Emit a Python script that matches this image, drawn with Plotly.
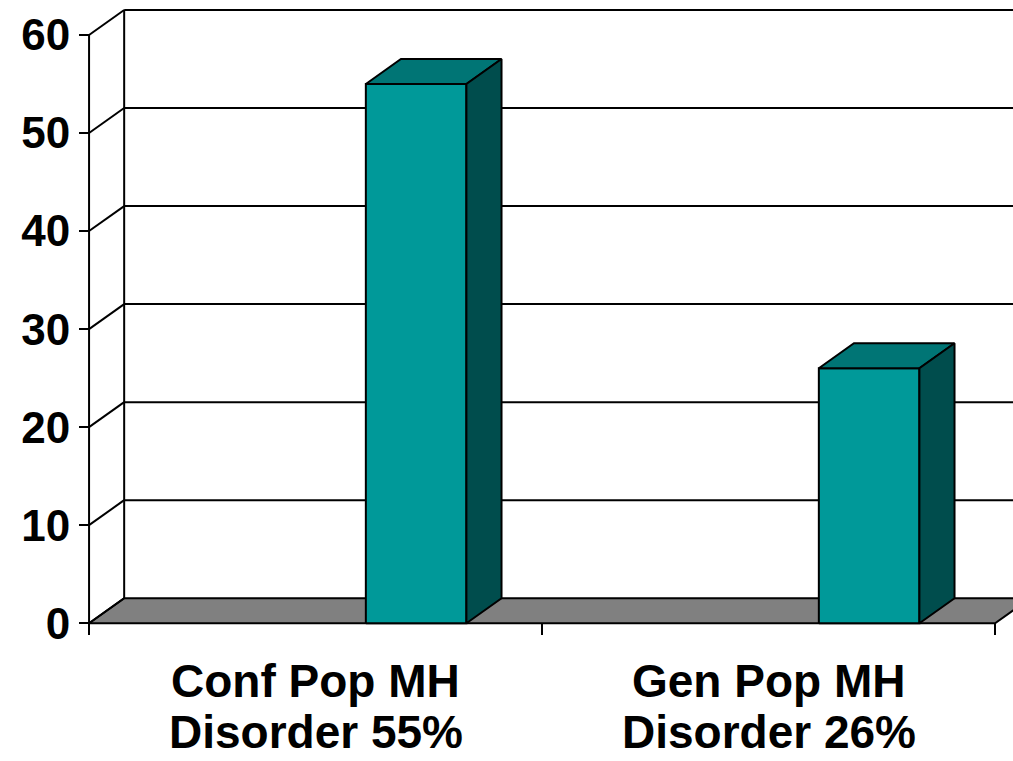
import plotly.graph_objects as go

# ---- data -------------------------------------------------------------
categories = [["Conf Pop MH", "Disorder 55%"], ["Gen Pop MH", "Disorder 26%"]]
values = [55, 26]
y_ticks = [0, 10, 20, 30, 40, 50, 60]

# ---- 3-D styling (axis units) -----------------------------------------
DX = 0.0775          # depth offset of the back wall along x
DY = 2.55            # depth offset of the back wall along y
BAR_LEFT = 0.611     # bar front face position inside its category slot
BAR_RIGHT = 0.833

FRONT = "#009999"
TOP = "#007575"
SIDE = "#004D4D"
FLOOR = "#808080"
EDGE = "black"
LW = 2

W, H = 1013, 761
L, B = 80, 128
PX_PER_X = 453.0
X0 = -0.02
PLOT_W = W - L
PLOT_H = H - B
Y0 = -1.0
Y1 = 63.57
X1 = X0 + PLOT_W / PX_PER_X

fig = go.Figure()


def poly(xs, ys, fill):
    fig.add_trace(go.Scatter(
        x=list(xs) + [xs[0]], y=list(ys) + [ys[0]], mode="lines",
        fill="toself", fillcolor=fill,
        line=dict(color=EDGE, width=LW), hoverinfo="skip", showlegend=False))


def segments(segs):
    xs, ys = [], []
    for (xa, ya), (xb, yb) in segs:
        xs += [xa, xb, None]
        ys += [ya, yb, None]
    fig.add_trace(go.Scatter(
        x=xs, y=ys, mode="lines", line=dict(color=EDGE, width=LW),
        hoverinfo="skip", showlegend=False))


n = len(categories)
top_val = y_ticks[-1]

# back wall gridlines and its left edge
segments([((DX, v + DY), (n + DX, v + DY)) for v in y_ticks if v > 0]
         + [((DX, DY), (DX, top_val + DY))])

# floor
poly([0, n, n + DX, DX], [0, 0, DY, DY], FLOOR)

# left side wall: front axis line and diagonals to the back wall
segments([((0, 0), (0, top_val))]
         + [((0, v), (DX, v + DY)) for v in y_ticks])

# bars
for i, v in enumerate(values):
    x0, x1 = i + BAR_LEFT, i + BAR_RIGHT
    poly([x0, x1, x1, x0], [0, 0, v, v], FRONT)
    poly([x0, x1, x1 + DX, x0 + DX], [v, v, v + DY, v + DY], TOP)
    poly([x1, x1 + DX, x1 + DX, x1], [0, DY, v + DY, v], SIDE)

# category labels, two lines each
font_family = "Liberation Sans, Arial, sans-serif"
line_pix = [681, 731.5]
for i, lines in enumerate(categories):
    for text, p in zip(lines, line_pix):
        fig.add_annotation(
            x=i + 0.5, xref="x", y=(PLOT_H - p) / PLOT_H, yref="paper",
            text=text, showarrow=False, xanchor="center", yanchor="middle",
            font=dict(family=font_family, size=46, color="black", weight="bold"))

fig.update_layout(
    width=W, height=H,
    margin=dict(l=L, r=0, t=0, b=B, pad=0),
    paper_bgcolor="white", plot_bgcolor="white",
    showlegend=False,
    xaxis=dict(range=[X0, X1], tickvals=list(range(n + 1)), ticks="outside",
               ticklen=11, tickwidth=LW, tickcolor=EDGE, showticklabels=False,
               showgrid=False, zeroline=False, showline=False,
               anchor="free", position=(0 - Y0) / (Y1 - Y0), fixedrange=True),
    yaxis=dict(range=[Y0, Y1], tickvals=y_ticks, ticks="outside",
               ticklen=10, tickwidth=LW, tickcolor=EDGE,
               tickfont=dict(family=font_family, size=44, color="black",
                             weight="bold"),
               showgrid=False, zeroline=False, showline=False,
               anchor="free", position=(0 - X0) / (X1 - X0), fixedrange=True),
)

fig.write_html("out.html")
